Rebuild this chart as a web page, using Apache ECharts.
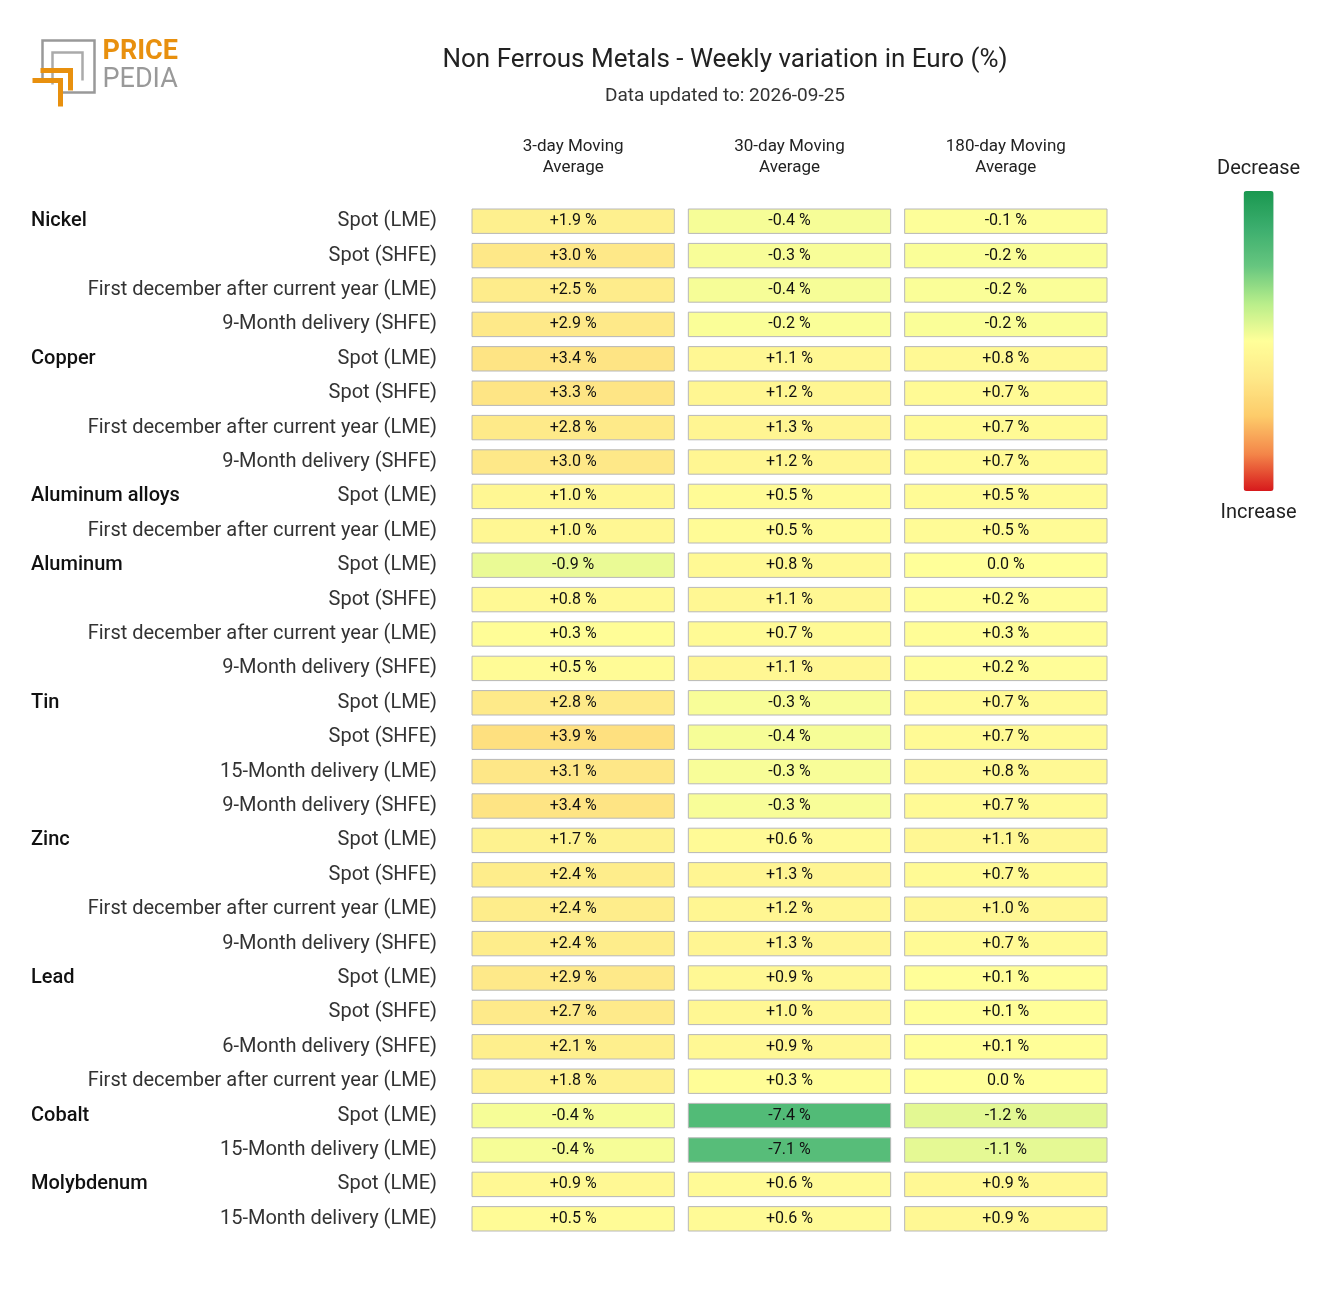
<!DOCTYPE html>
<html><head><meta charset="utf-8">
<script src="https://cdn.jsdelivr.net/npm/echarts@6/dist/echarts.min.js"></script>
<style>body{margin:0;background:#fff}#c{width:1320px;height:1305px}</style>
</head><body><div id="c"></div>
<script>
const groups = ['Nickel','','','','Copper','','','','Aluminum alloys','','Aluminum','','','','Tin','','','','Zinc','','','','Lead','','','','Cobalt','','Molybdenum',''];
const rows = ['Spot (LME)','Spot (SHFE)','First december after current year (LME)','9-Month delivery (SHFE)',
'Spot (LME)','Spot (SHFE)','First december after current year (LME)','9-Month delivery (SHFE)',
'Spot (LME)','First december after current year (LME)',
'Spot (LME)','Spot (SHFE)','First december after current year (LME)','9-Month delivery (SHFE)',
'Spot (LME)','Spot (SHFE)','15-Month delivery (LME)','9-Month delivery (SHFE)',
'Spot (LME)','Spot (SHFE)','First december after current year (LME)','9-Month delivery (SHFE)',
'Spot (LME)','Spot (SHFE)','6-Month delivery (SHFE)','First december after current year (LME)',
'Spot (LME)','15-Month delivery (LME)','Spot (LME)','15-Month delivery (LME)'];
const columns = ['3-day Moving\nAverage','30-day Moving\nAverage','180-day Moving\nAverage'];
const ma3 = [1.9,3.0,2.5,2.9,3.4,3.3,2.8,3.0,1.0,1.0,-0.9,0.8,0.3,0.5,2.8,3.9,3.1,3.4,1.7,2.4,2.4,2.4,2.9,2.7,2.1,1.8,-0.4,-0.4,0.9,0.5];
const ma30 = [-0.4,-0.3,-0.4,-0.2,1.1,1.2,1.3,1.2,0.5,0.5,0.8,1.1,0.7,1.1,-0.3,-0.4,-0.3,-0.3,0.6,1.3,1.2,1.3,0.9,1.0,0.9,0.3,-7.4,-7.1,0.6,0.6];
const ma180 = [-0.1,-0.2,-0.2,-0.2,0.8,0.7,0.7,0.7,0.5,0.5,0.0,0.2,0.3,0.2,0.7,0.7,0.8,0.7,1.1,0.7,1.0,0.7,0.1,0.1,0.1,0.0,-1.2,-1.1,0.9,0.9];

const cols=[ma3,ma30,ma180];
const data=[];
cols.forEach((arr,ci)=>arr.forEach((v,ri)=>data.push([ci,ri,-v,v])));
const fmt=v=>(v>0?'+':'')+v.toFixed(1)+' %';

const chart=echarts.init(document.getElementById('c'));
const F='Roboto';
chart.setOption({
  backgroundColor:'#fff',
  title:{text:'Non Ferrous Metals - Weekly variation in Euro (%)',subtext:'Data updated to: 2026-09-25',left:720,textAlign:'center',top:42,itemGap:14,
    textStyle:{fontFamily:F,fontWeight:'normal',fontSize:26,color:'#222'},subtextStyle:{fontFamily:F,fontSize:19,color:'#333'}},
  grid:{left:465,right:206,top:204,bottom:69},
  xAxis:{type:'category',data:columns,position:'top',axisLine:{show:false},axisTick:{show:false},
    axisLabel:{fontFamily:F,fontSize:17,color:'#222',margin:26,lineHeight:21}},
  yAxis:[{type:'category',data:rows,inverse:true,axisLine:{show:false},axisTick:{show:false},
    axisLabel:{fontFamily:F,fontSize:20,color:'#333',margin:28,padding:[8,0,0,0]}},
   {type:'category',data:groups,inverse:true,position:'left',axisLine:{show:false},axisTick:{show:false},
    axisLabel:{fontFamily:F,fontSize:20,color:'#111',fontWeight:500,align:'left',margin:434,padding:[0,0,6,0]}}],
  visualMap:{type:'continuous',dimension:2,min:-12,max:12,calculable:false,orient:'vertical',left:1202,top:144,itemWidth:30,itemHeight:300,
    text:['Decrease','Increase'],textGap:12,textStyle:{fontFamily:F,fontSize:20,color:'#222'},
    inRange:{color:['#d7191c','#f4874a','#fdcc6a','#fee888','#ffff99','#b8ee8a','#66c67f','#3cae6e','#1a9850']}},
  series:[{type:'custom',data:data,encode:{x:0,y:1},
    renderItem:(p,api)=>{
      const c=api.coord([api.value(0),api.value(1)]);const s=api.size([1,1]);
      const w=s[0]-14,h=s[1]-10;
      return {type:'group',children:[
        {type:'rect',shape:{x:c[0]-w/2,y:c[1]-h/2,width:w,height:h},style:{fill:api.visual('color'),stroke:'#b8b8b8',lineWidth:1}},
        {type:'text',style:{text:fmt(api.value(3)),x:c[0],y:c[1],align:'center',verticalAlign:'middle',fontFamily:F,fontSize:16,fill:'#111'}}
      ]};
    }}],
  graphic:[
    {type:'group',left:30,top:38,children:[
      {type:'polyline',shape:{points:[[12,44],[12,2],[64,2],[64,54],[30,54]]},style:{stroke:'#999',fill:null,lineWidth:2.5}},
      {type:'polyline',shape:{points:[[22,46],[22,14],[52,14],[52,42]]},style:{stroke:'#aaa',fill:null,lineWidth:2.5}},
      {type:'polyline',shape:{points:[[2,42],[30,42],[30,68]]},style:{stroke:'#e8900e',fill:null,lineWidth:5}},
      {type:'polyline',shape:{points:[[10,32],[40,32],[40,52]]},style:{stroke:'#e8900e',fill:null,lineWidth:5}},
      {type:'text',left:72,top:0,style:{text:'PRICE',fontFamily:F,fontWeight:'bold',fontSize:27,fill:'#e8900e'}},
      {type:'text',left:72,top:28,style:{text:'PEDIA',fontFamily:F,fontSize:27,fill:'#999'}}
    ]}
  ]
});
</script></body></html>
